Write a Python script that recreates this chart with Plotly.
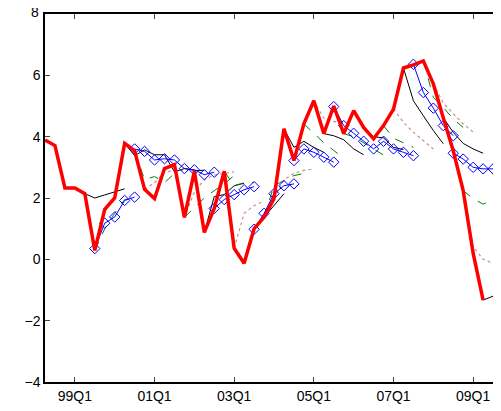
import plotly.graph_objects as go

# quarter index: 0 = 99Q1
tick_vals = [0, 8, 16, 24, 32, 40]
tick_text = ['99Q1', '01Q1', '03Q1', '05Q1', '07Q1', '09Q1']

actual_start = -3
actual = [3.89, 3.71, 2.33, 2.33, 2.14, 0.29, 1.63, 2.0, 3.78, 3.54, 2.28, 1.98,
          2.96, 3.09, 1.37, 2.87, 0.88, 1.66, 2.87, 0.36, -0.13, 1.0, 1.37, 1.98,
          4.26, 3.22, 4.42, 5.17, 4.1, 5.0, 4.1, 4.85, 4.3, 3.93, 4.36, 4.9,
          6.24, 6.34, 6.47, 5.72, 4.62, 3.54, 2.24, 0.2, -1.33]

# forecast paths: (origin quarter, values)
fc_blue = [
    (2, [0.35, 1.18, 1.38, 1.92, 2.03]),
    (6, [3.6, 3.52, 3.24, 3.28, 3.24, 2.96, 2.92, 2.76, 2.84]),
    (14, [1.66, 1.95, 2.11, 2.27, 2.37]),
    (18, [0.98, 1.5, 2.14, 2.4, 2.46]),
    (22, [3.22, 3.6, 3.49, 3.33, 3.17]),
    (26, [4.98, 4.36, 4.11, 3.85, 3.6, 3.85, 3.6, 3.49, 3.38]),
    (34, [6.36, 5.44, 4.93, 4.36, 4.03]),
    (38, [3.46, 3.27, 3.0, 2.95, 2.95]),
]
fc_black = [
    (1, [2.14, 2.0, 2.1, 2.2, 2.3]),
    (5, [3.78, 3.38, 3.57, 3.41, 3.41, 2.85, 2.96, 2.9, 2.9]),
    (13, [0.88, 2.05, 2.11, 2.4, 2.48]),
    (19, [1.37, 1.75, 2.14]),
    (21, [4.26, 3.65, 3.85, 3.65, 3.49]),
    (25, [4.1, 4.03, 3.9, 3.6, 3.41]),
    (29, [4.3, 4.0, 3.96, 3.65, 3.58]),
    (33, [6.24, 5.17, 4.68, 4.2, 3.77]),
    (37, [4.62, 4.14, 3.78, 3.6, 3.46]),
    (41, [-1.33, -1.2, -0.68, 0.3, 1.2]),
]
fc_green = [
    (2, [0.29, 1.0, 1.5, 1.95, 2.0]),
    (6, [3.54, 2.6, 2.7, 2.5, 2.8]),
    (11, [1.37, 1.7, 2.0, 2.24, 2.46, 2.73]),
    (15, [2.87, 2.4, 2.5, 2.5]),
    (19, [1.37, 2.4, 2.57, 2.73, 2.8]),
    (23, [4.42, 4.1, 3.8, 3.55, 3.3]),
    (27, [4.1, 4.0, 3.8, 3.6, 3.4]),
    (31, [4.36, 3.95, 3.8, 3.65]),
    (35, [6.47, 5.28, 4.95, 4.58, 4.3]),
    (39, [2.24, 1.98, 1.8, 1.95, 2.05]),
]
fc_pink = [
    (7, [2.28, 2.5, 2.84, 2.9, 2.9]),
    (11, [1.37, 2.2, 2.6, 2.75, 2.8, 2.85]),
    (16, [0.36, 1.5, 1.75, 1.9]),
    (20, [1.98, 2.6, 2.8, 2.9, 2.95]),
    (24, [5.17, 4.6, 4.5, 4.4]),
    (32, [4.9, 4.47, 4.14, 3.87, 3.6]),
    (36, [5.72, 5.1, 4.75, 4.42, 4.15]),
    (39, [2.24, 0.4, 0.0, -0.13, 0.05, 0.4]),
]


def join(paths):
    xs, ys = [], []
    for t0, vals in paths:
        xs += [t0 + i for i in range(len(vals))] + [None]
        ys += vals + [None]
    return xs, ys


fig = go.Figure()
for paths, line, marker in [
    (fc_black, dict(color='black', width=1), None),
    (fc_green, dict(color='#008000', width=1, dash='dash'), None),
    (fc_pink, dict(color='#c89090', width=1.2, dash='dot'), None),
    (fc_blue, dict(color='blue', width=1),
     dict(symbol='diamond-open', size=8, color='blue', line=dict(width=1))),
]:
    x, y = join(paths)
    fig.add_trace(go.Scatter(x=x, y=y, mode='lines+markers' if marker else 'lines',
                             line=line, marker=marker, showlegend=False))

fig.add_trace(go.Scatter(x=[actual_start + i for i in range(len(actual))], y=actual,
                         mode='lines', line=dict(color='red', width=3.5), showlegend=False))

fig.update_layout(
    width=501, height=411, margin=dict(l=37, r=0, t=6, b=37),
    plot_bgcolor='white', paper_bgcolor='white',
    font=dict(family='Liberation Sans', size=14, color='black'),
    annotations=[dict(text='8', x=0, xref='paper', y=8, yref='y', xanchor='right',
                      xshift=-4, yshift=2, showarrow=False, font=dict(size=14))],
)
fig.update_xaxes(range=[-3, 43.6], tickvals=tick_vals, ticktext=tick_text,
                 ticks='inside', ticklen=5, showgrid=False, zeroline=False,
                 showline=True, linecolor='black', linewidth=1.5, mirror='ticks',
                 automargin=False)
fig.update_yaxes(range=[-4, 8], tickvals=[-4, -2, 0, 2, 4, 6], ticks='inside', ticklen=5,
                 showgrid=False, zeroline=False,
                 showline=True, linecolor='black', linewidth=1.5, mirror='ticks',
                 automargin=False)

fig.write_html("out.html")
